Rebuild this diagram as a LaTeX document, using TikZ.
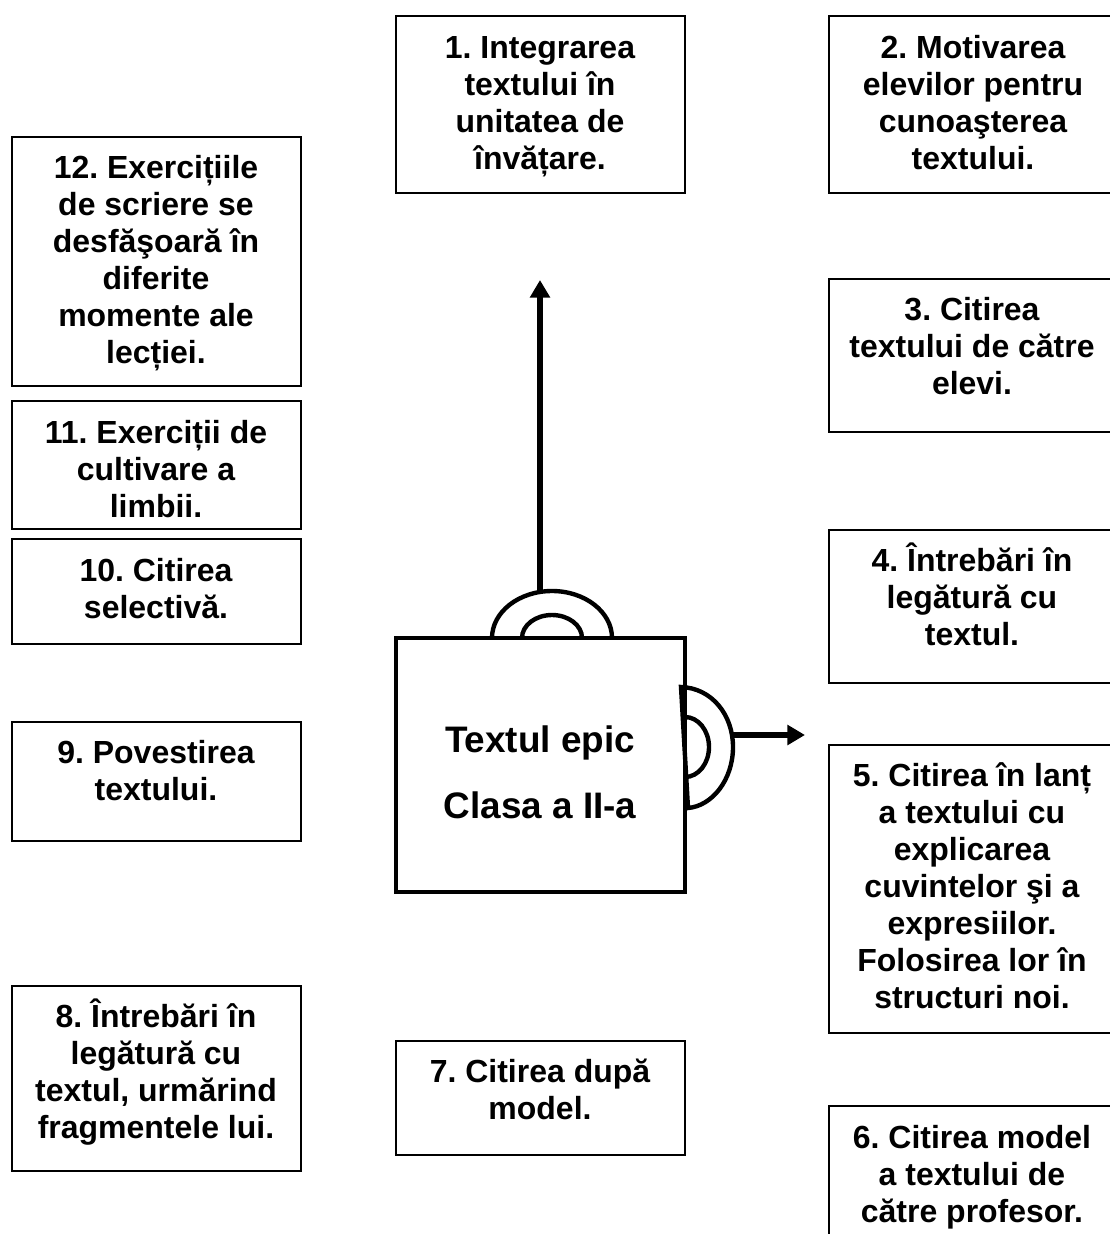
\documentclass[tikz,border=0pt]{standalone}
\usepackage{fontspec}
\setmainfont{Liberation Sans}
\usetikzlibrary{arrows.meta}
\frenchspacing
\tikzset{
  caseta/.style={line width=1.2pt},
  eticheta/.style={align=center,inner sep=0pt,font=\bfseries\fontsize{18.2}{21.05}\selectfont},
  titlu/.style={align=center,inner sep=0pt,font=\bfseries\fontsize{21}{37.5}\selectfont},
  contur/.style={line width=2.5pt},
  sageata/.style={line width=3pt,-{Triangle[length=10pt,width=11pt]}}
}

\begin{document}
\begin{tikzpicture}[x=0.02cm,y=-0.02cm]
  \useasboundingbox (0,0) rectangle (1109,1234);

  \draw[caseta] (396,16) rectangle (685,193);
	\draw (540,107) node[eticheta] (text1) {1. Integrarea\\textului în\\unitatea de\\învățare.};

  \draw[caseta] (829,16) rectangle (1115,193);
	\draw (973,103) node[eticheta] (text2) {2. Motivarea\\elevilor pentru\\cunoaşterea\\textului.};

  \draw[caseta] (829,279) rectangle (1115,432);
	\draw (972,346) node[eticheta] (text3) {3. Citirea\\textului de către\\elevi.};

  \draw[caseta] (829,530) rectangle (1115,683);
	\draw (972,594) node[eticheta] (text4) {4. Întrebări în\\legătură cu\\textul.};

  \draw[caseta] (829,745) rectangle (1115,1033);
	\draw (972,886) node[eticheta] (text5) {5. Citirea în lanț\\a textului cu\\explicarea\\cuvintelor şi a\\expresiilor.\\Folosirea lor în\\structuri noi.};

  \draw[caseta] (829,1240) -- (829,1106) -- (1115,1106);
	\draw (972,1177) node[eticheta] (text6) {6. Citirea model\\a textului de\\către profesor.};

  \draw[caseta] (396,1041) rectangle (685,1155);
	\draw (540,1089) node[eticheta] (text7) {7. Citirea după\\model.};

  \draw[caseta] (12,986) rectangle (301,1171);
	\draw (156,1072) node[eticheta] (text8) {8. Întrebări în\\legătură cu\\textul, urmărind\\fragmentele lui.};

  \draw[caseta] (12,722) rectangle (301,841);
	\draw (156,771) node[eticheta] (text9) {9. Povestirea\\textului.};

  \draw[caseta] (12,539) rectangle (301,644);
	\draw (156,589) node[eticheta] (text10) {10. Citirea\\selectivă.};

  \draw[caseta] (12,401) rectangle (301,529);
	\draw (156,469) node[eticheta] (text11) {11. Exerciții de\\cultivare a\\limbii.};

  \draw[caseta] (12,137) rectangle (301,386);
	\draw (156,263) node[eticheta] (text12) {12. Exercițiile\\de scriere se\\desfăşoară în\\diferite\\momente ale\\lecției.};

	% ghiozdanul din mijloc
  \draw[line width=2.8pt] (396,638) rectangle (685,892);
	\draw (540,772) node[titlu] (titlu) {Textul epic\\Clasa a II-a};

	\draw[contur] (492,638) arc[start angle=180,end angle=360,x radius=60,y radius=47];
	\draw[contur] (522,638) arc[start angle=180,end angle=360,x radius=30,y radius=23];
	\draw[contur] (681,687) .. controls (712,688) and (733,715) .. (733,747) .. controls (733,780) and (712,806) .. (688,808) -- cycle;
	\draw[contur] (685,717) arc[start angle=-90,end angle=90,x radius=24,y radius=30];

	\coordinate (sus1) at (540,591);
	\coordinate (sus2) at (540,280);
	\coordinate (dreapta1) at (733,735);
	\coordinate (dreapta2) at (805,735);
	\draw[sageata] (sus1) -- (sus2);
	\draw[sageata] (dreapta1) -- (dreapta2);
\end{tikzpicture}
\end{document}
